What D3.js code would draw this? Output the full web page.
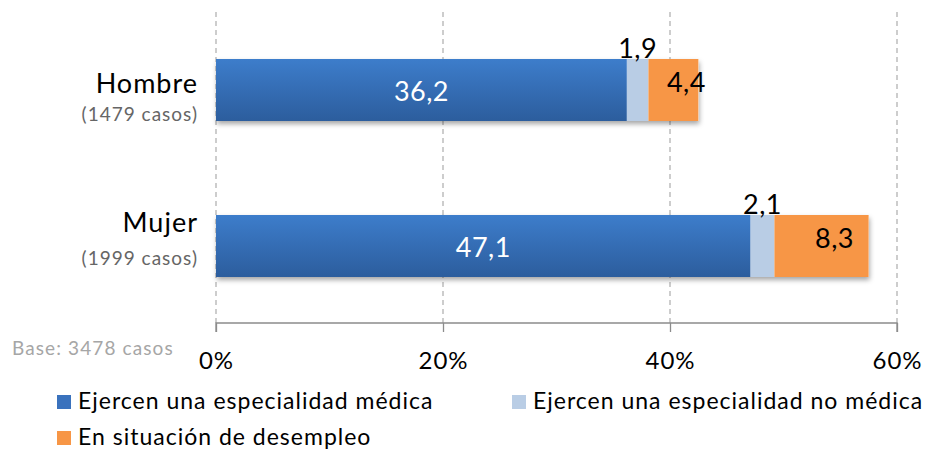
<!DOCTYPE html>
<html>
<head>
<meta charset="utf-8">
<script src="https://cdn.jsdelivr.net/npm/d3@7"></script>
<style>
  body { margin: 0; background: #fff; }
  svg text { font-family: Lato, "Open Sans", sans-serif; }
</style>
</head>
<body>
<svg id="chart" width="929" height="449"></svg>
<script>
// Data
const categories = ["Hombre", "Mujer"];
const caseLabels = ["(1479 casos)", "(1999 casos)"];
const seriesNames = [
    "Ejercen una especialidad médica",
    "Ejercen una especialidad no médica",
    "En situación de desempleo"
];
const medica = [36.2, 47.1];
const noMedica = [1.9, 2.1];
const desempleo = [4.4, 8.3];
const xTicks = [0, 20, 40, 60];
const baseNote = "Base: 3478 casos";

const colors = ["url(#gradBlue)", "#b9cde5", "#f79646"];
const legendColors = ["#3a72bd", "#b9cde5", "#f79646"];

const svg = d3.select("#chart");
const defs = svg.append("defs");

const grad = defs.append("linearGradient")
    .attr("id", "gradBlue")
    .attr("x1", 0).attr("y1", 0).attr("x2", 0).attr("y2", 1);
grad.append("stop").attr("offset", "0%").attr("stop-color", "#3d7dcb");
grad.append("stop").attr("offset", "100%").attr("stop-color", "#2c5d9d");

const shadow = defs.append("filter").attr("id", "shadow")
    .attr("x", "-5%").attr("y", "-20%").attr("width", "110%").attr("height", "150%");
shadow.append("feDropShadow")
    .attr("dx", 1).attr("dy", 3).attr("stdDeviation", 2.5)
    .attr("flood-color", "#000").attr("flood-opacity", 0.35);

const x = d3.scaleLinear().domain([0, 60]).range([216, 897]);
const y = d3.scaleBand().domain(categories).range([12, 324]).paddingInner(0.6).paddingOuter(0.3);

// gridlines
svg.append("g")
    .selectAll("line")
    .data(xTicks)
    .join("line")
    .attr("x1", d => x(d)).attr("x2", d => x(d))
    .attr("y1", 12).attr("y2", 323)
    .attr("stroke", "#b3b3b3")
    .attr("stroke-width", 1.3)
    .attr("stroke-dasharray", "5,4");

// axis
const axis = d3.axisBottom(x)
    .tickValues(xTicks)
    .tickSize(9)
    .tickPadding(20)
    .tickFormat(d => d + "%");
const axisG = svg.append("g")
    .attr("transform", "translate(0,323)")
    .call(axis);
axisG.select(".domain").attr("stroke", "#8c8c8c").attr("stroke-width", 1.3)
    .attr("d", `M${x(0)},9V0H${x(60)}V9`);
axisG.selectAll(".tick line").attr("stroke", "#8c8c8c").attr("stroke-width", 1.3);
axisG.selectAll(".tick text")
    .attr("fill", "#000")
    .style("font-size", "24px")
    .style("letter-spacing", "1px")
    .style("font-family", "Lato, sans-serif");

// stacked bars
const rows = categories.map((c, i) => ({ cat: c, vals: [medica[i], noMedica[i], desempleo[i]] }));
const barH = 62;
const nameDy = [3, -14];
const caseDy = [31, 19];

rows.forEach((r, i) => {
    const cy = y(r.cat) + y.bandwidth() / 2;
    const top = cy - barH / 2;
    const g = svg.append("g");
    let acc = 0;
    const segs = r.vals.map((v, k) => {
        const s = { k, v, x0: acc, x1: acc + v };
        acc += v;
        return s;
    });
    // shadow base
    g.append("rect")
        .attr("x", x(0)).attr("y", top)
        .attr("width", x(acc) - x(0)).attr("height", barH)
        .attr("fill", "#fff")
        .attr("filter", "url(#shadow)");
    g.selectAll("rect.seg")
        .data(segs)
        .join("rect")
        .attr("class", "seg")
        .attr("x", d => x(d.x0))
        .attr("y", top)
        .attr("width", d => x(d.x1) - x(d.x0))
        .attr("height", barH)
        .attr("fill", d => colors[d.k]);

    const fmt = v => v.toFixed(1).replace(".", ",");
    // value labels
    g.selectAll("text.val")
        .data(segs)
        .join("text")
        .attr("class", "val")
        .attr("x", d => (x(d.x0) + x(d.x1)) / 2 + (d.k === 2 ? 13 : 0))
        .attr("y", d => d.k === 0 ? cy + 11 : d.k === 1 ? top - 1 : cy + 2)
        .attr("text-anchor", "middle")
        .attr("fill", d => d.k === 0 ? "#fff" : "#000")
        .style("font-size", "27px")
        .style("letter-spacing", "0.5px")
        .text(d => fmt(d.v));

    // category labels
    svg.append("text")
        .attr("x", 198).attr("y", cy + nameDy[i])
        .attr("text-anchor", "end")
        .attr("fill", "#000")
        .style("font-size", "27px")
        .style("letter-spacing", "1px")
        .text(r.cat);
    svg.append("text")
        .attr("x", 198).attr("y", cy + caseDy[i])
        .attr("text-anchor", "end")
        .attr("fill", "#666")
        .style("font-size", "19px")
        .style("letter-spacing", "1px")
        .text(caseLabels[i]);
});

// base note
svg.append("text")
    .attr("x", 12).attr("y", 355)
    .attr("fill", "#a6a6a6")
    .style("font-size", "19px")
    .style("letter-spacing", "1.1px")
    .text(baseNote);

// legend
const legendPos = [[57, 395], [512, 395], [57, 431]];
const legend = svg.append("g");
seriesNames.forEach((name, k) => {
    const [lx, ly] = legendPos[k];
    legend.append("rect")
        .attr("x", lx).attr("y", ly)
        .attr("width", 14).attr("height", 14)
        .attr("fill", legendColors[k]);
    legend.append("text")
        .attr("x", lx + 21).attr("y", ly + 14)
        .attr("fill", "#000")
        .style("font-size", "23px")
        .style("letter-spacing", "1px")
        .text(name);
});
</script>
</body>
</html>
